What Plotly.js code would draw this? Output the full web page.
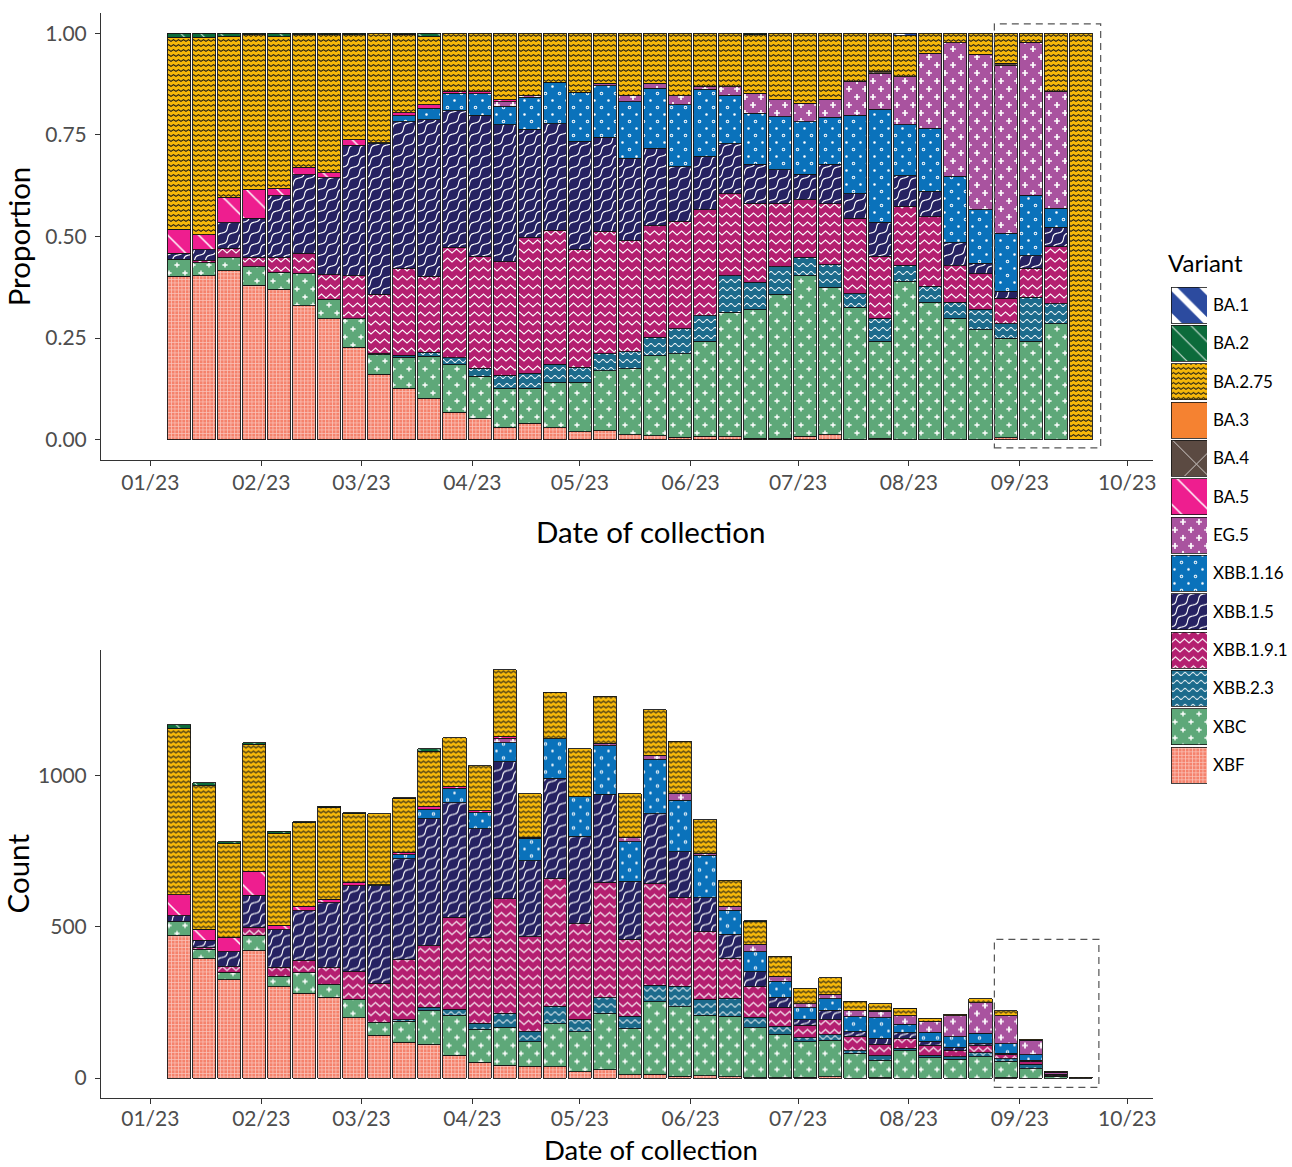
<!DOCTYPE html>
<html>
<head>
<meta charset="utf-8">
<script src="https://cdn.plot.ly/plotly-3.0.1.min.js"></script>
<style>html,body{margin:0;padding:0;background:#fff}#chart{width:1292px;height:1167px}</style>
</head>
<body>
<div id="chart"></div>
<script>
// ---------------- DATA ----------------
const weeks = ['2023-01-09','2023-01-16','2023-01-23','2023-01-30','2023-02-06','2023-02-13','2023-02-20','2023-02-27',
  '2023-03-06','2023-03-13','2023-03-20','2023-03-27','2023-04-03','2023-04-10','2023-04-17','2023-04-24',
  '2023-05-01','2023-05-08','2023-05-15','2023-05-22','2023-05-29','2023-06-05','2023-06-12','2023-06-19',
  '2023-06-26','2023-07-03','2023-07-10','2023-07-17','2023-07-24','2023-07-31','2023-08-07','2023-08-14',
  '2023-08-21','2023-08-28','2023-09-04','2023-09-11','2023-09-18'];

// weekly number of sequences (lower panel bar heights)
const totalCount = [1168,976,780,1108,816,847,898,876,873,926,1088,1124,1032,1349,939,1275,1088,1261,939,1217,1113,854,653,519,403,296,331,253,246,230,198,210,262,223,128,22,2];

// weekly share of each variant (upper panel)
const pBA1     = [0,0,0,0,0,0,0,0,0,0,0,0,0,0,0,0,0,0,0,0,0,0,0,0,0,0,0,0,0,0.006,0,0,0,0,0,0,0];
const pBA2     = [0.010,0.010,0.007,0.004,0.008,0.004,0.004,0.004,0,0.002,0.007,0,0,0,0,0,0,0,0,0,0,0,0,0.004,0,0,0,0,0,0,0,0,0,0,0,0,0];
const pBA275   = [0.472,0.486,0.397,0.380,0.373,0.326,0.339,0.258,0.269,0.193,0.169,0.143,0.144,0.164,0.152,0.121,0.145,0.123,0.152,0.123,0.154,0.130,0.131,0.144,0.164,0.172,0.162,0.118,0.095,0.101,0.049,0.023,0.052,0.074,0.022,0.142,1.000];
const pBA3     = [0,0,0,0,0,0,0,0,0,0,0,0,0,0,0,0,0,0,0,0,0,0,0,0,0,0,0,0,0,0,0,0,0,0,0,0,0];
const pBA4     = [0,0,0,0,0,0,0,0,0,0,0,0,0,0,0,0,0,0,0,0,0,0,0,0,0,0,0,0,0.005,0,0,0,0,0.006,0,0,0];
const pBA5     = [0.059,0.037,0.062,0.071,0.019,0.018,0.012,0.013,0,0.008,0.008,0.005,0.005,0.004,0,0,0,0,0,0,0,0,0,0,0,0,0,0,0,0,0,0,0,0,0,0,0];
const pEG5     = [0,0,0,0,0,0,0,0,0,0,0,0,0,0.011,0.005,0,0,0.006,0.016,0.012,0.022,0.008,0.021,0.049,0.041,0.045,0.045,0.084,0.087,0.118,0.185,0.329,0.382,0.412,0.376,0.288,0];
const pXBB116  = [0,0,0,0,0,0,0,0,0.003,0.014,0.029,0.042,0.053,0.046,0.079,0.102,0.120,0.127,0.139,0.148,0.152,0.165,0.120,0.125,0.131,0.130,0.115,0.193,0.278,0.125,0.155,0.163,0.132,0.143,0.149,0.047,0];
const pXBB15   = [0.015,0.026,0.063,0.096,0.151,0.193,0.239,0.322,0.370,0.361,0.385,0.337,0.347,0.336,0.266,0.261,0.266,0.231,0.204,0.190,0.135,0.131,0.123,0.096,0.082,0.063,0.098,0.060,0.083,0.075,0.062,0.057,0.026,0.017,0.031,0.048,0];
const pXBB191  = [0,0.005,0.023,0.023,0.037,0.049,0.060,0.105,0.146,0.214,0.187,0.271,0.275,0.280,0.334,0.330,0.291,0.302,0.272,0.275,0.264,0.261,0.202,0.194,0.156,0.141,0.150,0.186,0.153,0.145,0.172,0.090,0.087,0.063,0.071,0.141,0];
const pXBB23   = [0,0,0,0,0,0,0,0,0.003,0.005,0.010,0.018,0.020,0.034,0.037,0.045,0.037,0.041,0.043,0.045,0.062,0.063,0.090,0.068,0.068,0.045,0.055,0.033,0.057,0.040,0.039,0.039,0.051,0.035,0.109,0.049,0];
const pXBC     = [0.042,0.033,0.032,0.046,0.042,0.080,0.049,0.070,0.048,0.076,0.103,0.117,0.105,0.094,0.086,0.112,0.122,0.148,0.162,0.197,0.205,0.234,0.306,0.317,0.355,0.396,0.363,0.326,0.239,0.389,0.338,0.299,0.270,0.245,0.242,0.285,0];
const pXBF     = [0.402,0.403,0.416,0.380,0.370,0.330,0.297,0.228,0.161,0.127,0.102,0.067,0.051,0.031,0.041,0.029,0.019,0.022,0.012,0.010,0.006,0.008,0.007,0.003,0.003,0.008,0.012,0,0.003,0,0,0,0,0.005,0,0,0];

const variantNames = ['BA.1','BA.2','BA.2.75','BA.3','BA.4','BA.5','EG.5','XBB.1.16','XBB.1.5','XBB.1.9.1','XBB.2.3','XBC','XBF'];
const variantShares = [pBA1,pBA2,pBA275,pBA3,pBA4,pBA5,pEG5,pXBB116,pXBB15,pXBB191,pXBB23,pXBC,pXBF];

// highlighted (incomplete) period
const boxStart = '2023-08-24 21:00', boxEndTop = '2023-09-23 14:00', boxEndBottom = '2023-09-23 02:00';

// ---------------- STYLE ----------------
const hasPath = (() => { try { const p = Plotly.PlotSchema.get().traces.bar.attributes.marker.pattern; return !!(p && p.path); } catch (e) { return false; } })();

const f = v => (+v).toFixed(2);
function plusAt(cx, cy, a, t) {
  return `M${f(cx-t)},${f(cy-a)}H${f(cx+t)}V${f(cy-t)}H${f(cx+a)}V${f(cy+t)}H${f(cx+t)}V${f(cy+a)}H${f(cx-t)}V${f(cy+t)}H${f(cx-a)}V${f(cy-t)}H${f(cx-t)}Z`;
}
function circ(cx, cy, r, rev) {
  const s = rev ? 1 : 0;
  return `M${f(cx-r)},${f(cy)}A${f(r)},${f(r)} 0 1,${s} ${f(cx+r)},${f(cy)}A${f(r)},${f(r)} 0 1,${s} ${f(cx-r)},${f(cy)}Z`;
}
function bandV(pts, h) {
  const top = pts.map(p => f(p[0]) + ',' + f(p[1] - h));
  const bot = pts.slice().reverse().map(p => f(p[0]) + ',' + f(p[1] + h));
  return 'M' + top.join('L') + 'L' + bot.join('L') + 'Z';
}
function zigPath(S, yLow, yHigh, h) {
  const pts = [[-S/2, yHigh], [0, yLow], [S/2, yHigh], [S, yLow], [1.5*S, yHigh]];
  return bandV(pts, h);
}
function waveH(S, c, A, h) {
  const pts = [];
  for (let x = -1; x <= S + 1.001; x += 0.5) pts.push([x, c + A * Math.sin(2 * Math.PI * x / S)]);
  return bandV(pts, h);
}
function waveDiag(S, A, h, k) {
  let out = '';
  [-S, 0, S].forEach(dx => {
    const up = [], dn = [];
    for (let t = -0.15; t <= 1.151; t += 0.04) {
      const bx = S * t + dx, by = S - S * t;
      const o = A * Math.sin(2 * Math.PI * k * t);
      const n = Math.SQRT1_2;
      up.push([bx + n * (o - h), by + n * (o - h)]);
      dn.push([bx + n * (o + h), by + n * (o + h)]);
    }
    out += 'M' + up.map(p => f(p[0]) + ',' + f(p[1])).join('L') + 'L' + dn.reverse().map(p => f(p[0]) + ',' + f(p[1])).join('L') + 'Z';
  });
  return out;
}

const styles = {
  'BA.1':      {color:'#2C4B9F', pat:{shape:'\\', size:22, solidity:0.3, fgcolor:'#ffffff'}},
  'BA.2':      {color:'#0C6B3B', pat:{shape:'\\', size:14, solidity:0.08, fgcolor:'#ffffff', fgopacity:0.8}},
  'BA.2.75':   {color:'#F6B80A', pat: hasPath ? {path: zigPath(5, 3.4, 1.6, 0.6), size:5, fgcolor:'#1a1a1a'} : {shape:'x', size:5, solidity:0.25, fgcolor:'#1a1a1a'}},
  'BA.3':      {color:'#F58231', pat:null},
  'BA.4':      {color:'#5B4A42', pat:{shape:'x', size:36, solidity:0.04, fgcolor:'#ffffff'}},
  'BA.5':      {color:'#EE1E8F', pat:{shape:'\\', size:22, solidity:0.07, fgcolor:'#ffffff'}},
  'EG.5':      {color:'#A9539F', pat: hasPath ? {path: plusAt(4,4,2.9,0.85) + plusAt(12,12,2.9,0.85), size:16, fgcolor:'#ffffff'} : {shape:'+', size:10, solidity:0.15, fgcolor:'#ffffff'}},
  'XBB.1.16':  {color:'#0A72BB', pat: hasPath ? {path: circ(3.5,3.5,1.3,false) + circ(10.5,10.5,1.8,false) + circ(10.5,10.5,0.85,true), size:14, fgcolor:'#ffffff'} : {shape:'.', size:8, solidity:0.2, fgcolor:'#ffffff'}},
  'XBB.1.5':   {color:'#262262', pat: hasPath ? {path: waveDiag(11, 1.6, 0.65, 1), size:11, fgcolor:'#ffffff'} : {shape:'/', size:9, solidity:0.2, fgcolor:'#ffffff'}},
  'XBB.1.9.1': {color:'#B41F70', pat: hasPath ? {path: zigPath(9, 6, 2, 0.65), size:9, fgcolor:'#ffffff'} : {shape:'x', size:9, solidity:0.12, fgcolor:'#ffffff'}},
  'XBB.2.3':   {color:'#1C6B8C', pat: hasPath ? {path: waveH(8, 4, 1.4, 0.6), size:8, fgcolor:'#ffffff'} : {shape:'-', size:7, solidity:0.2, fgcolor:'#ffffff'}},
  'XBC':       {color:'#5EA879', pat: hasPath ? {path: plusAt(4,4,2.6,0.7) + plusAt(12,12,2.6,0.7), size:16, fgcolor:'#ffffff'} : {shape:'+', size:12, solidity:0.1, fgcolor:'#ffffff'}},
  'XBF':       {color:'#F5826C', pat: hasPath ? {path: 'M0,0H3.5V0.7H0Z M0,0H0.7V3.5H0Z', size:3.5, fgcolor:'#ffffff', fgopacity:0.55} : {shape:'+', size:4, solidity:0.2, fgcolor:'#ffffff', fgopacity:0.55}}
};

function markerFor(name, lw) {
  const s = styles[name];
  const m = {color: s.color, line: {color: '#151515', width: lw}};
  if (s.pat) {
    const p = Object.assign({fillmode: 'replace', bgcolor: s.color, fgopacity: 1}, s.pat);
    if (p.path) p.shape = '';
    m.pattern = p;
  }
  return m;
}

// ---------------- TRACES ----------------
const traces = [];
const stackOrder = variantNames.slice().reverse(); // bottom of stack first
const rowSum = weeks.map((w, i) => variantShares.reduce((s, arr) => s + arr[i], 0));

stackOrder.forEach(name => {
  const share = variantShares[variantNames.indexOf(name)];
  const prop = share.map((v, i) => v > 0 ? v / rowSum[i] : null);
  const cnt = share.map((v, i) => v > 0 ? v / rowSum[i] * totalCount[i] : null);
  traces.push({type: 'bar', name: name, x: weeks, y: prop, xaxis: 'x', yaxis: 'y', marker: markerFor(name, 0.9), showlegend: false, hoverinfo: 'x+y+name'});
  traces.push({type: 'bar', name: name, x: weeks, y: cnt, xaxis: 'x2', yaxis: 'y2', marker: markerFor(name, 0.9), showlegend: false, hoverinfo: 'x+y+name'});
});
// key swatches for the variant legend
variantNames.forEach(name => {
  traces.push({type: 'bar', orientation: 'h', name: name, x: [1], y: [name], width: 0.94, xaxis: 'x3', yaxis: 'y3',
    marker: markerFor(name, 0.8), showlegend: false, hoverinfo: 'name'});
});

// ---------------- LAYOUT ----------------
const W = 1292, H = 1167;
const axisFont = {family: 'Lato, sans-serif', size: 21, color: '#4D4D4D'};
const titleFont = {family: 'Lato, sans-serif', size: 29.5, color: '#000'};
const dateAxis = (anchor, standoff) => ({
  anchor: anchor, domain: [101 / W, 1153 / W], type: 'date',
  range: ['2022-12-18 05:00', '2023-10-08 05:00'],
  tickformat: '%m/%y', dtick: 'M1', tick0: '2023-01-01',
  ticks: 'outside', ticklen: 5, tickwidth: 1, tickcolor: '#333', ticklabelstandoff: standoff,
  showline: true, linecolor: '#333', linewidth: 1, showgrid: false, zeroline: false,
  tickfont: axisFont
});

const layout = {
  width: W, height: H, margin: {l: 0, r: 0, t: 0, b: 0},
  paper_bgcolor: '#fff', plot_bgcolor: '#fff',
  barmode: 'stack', bargap: 0.08, showlegend: false,
  font: {family: 'Lato, sans-serif', color: '#000'},
  xaxis: dateAxis('y', -1),
  yaxis: {anchor: 'x', domain: [(H - 460) / H, (H - 13) / H], range: [-0.05, 1.05],
    tickvals: [0, 0.25, 0.5, 0.75, 1], tickformat: '.2f',
    ticks: 'outside', ticklen: 5, tickwidth: 1, tickcolor: '#333', ticklabelstandoff: 4,
    showline: true, linecolor: '#333', linewidth: 1, showgrid: false, zeroline: false,
    tickfont: axisFont, title: {text: 'Proportion', font: titleFont, standoff: 5}},
  xaxis2: dateAxis('y2', -3),
  yaxis2: {anchor: 'x2', domain: [(H - 1098) / H, (H - 649.5) / H], range: [-66, 1416],
    tickvals: [0, 500, 1000], tickformat: 'd',
    ticks: 'outside', ticklen: 5, tickwidth: 1, tickcolor: '#333', ticklabelstandoff: 4,
    showline: true, linecolor: '#333', linewidth: 1, showgrid: false, zeroline: false,
    tickfont: axisFont, title: {text: 'Count', font: titleFont, standoff: 5}},
  xaxis3: {anchor: 'y3', domain: [1171 / W, 1207 / W], range: [0, 1], visible: false, fixedrange: true},
  yaxis3: {anchor: 'x3', domain: [(H - 784.2) / H, (H - 285.9) / H], type: 'category',
    categoryorder: 'array', categoryarray: variantNames, range: [12.5, -0.5],
    side: 'right', showline: false, showgrid: false, zeroline: false, ticks: '', ticklabelstandoff: 5,
    tickfont: {family: 'Lato, sans-serif', size: 17, color: '#000'}, fixedrange: true},
  annotations: [
    {text: 'Variant', xref: 'paper', yref: 'paper', x: 1166 / W, y: (H - 263) / H, xanchor: 'left', yanchor: 'middle',
      showarrow: false, font: {family: 'Lato, sans-serif', size: 24, color: '#000'}},
    {text: 'Date of collection', xref: 'paper', yref: 'paper', x: 650.5 / W, y: (H - 531) / H, xanchor: 'center', yanchor: 'middle',
      showarrow: false, font: titleFont},
    {text: 'Date of collection', xref: 'paper', yref: 'paper', x: 650.5 / W, y: 0, xanchor: 'center', yanchor: 'bottom',
      showarrow: false, borderpad: 0, font: {family: 'Lato, sans-serif', size: 27.5, color: '#000'}}
  ],
  shapes: [
    {type: 'rect', xref: 'x', yref: 'y', x0: boxStart, x1: boxEndTop, y0: -0.02, y1: 1.023,
      line: {color: '#555', width: 1.2, dash: '7px,5px'}, fillcolor: 'rgba(0,0,0,0)', layer: 'above'},
    {type: 'rect', xref: 'x2', yref: 'y2', x0: boxStart, x1: boxEndBottom, y0: -31, y1: 458,
      line: {color: '#555', width: 1.2, dash: '7px,5px'}, fillcolor: 'rgba(0,0,0,0)', layer: 'above'}
  ]
};

Plotly.newPlot('chart', traces, layout, {staticPlot: true, displayModeBar: false});
</script>
</body>
</html>
